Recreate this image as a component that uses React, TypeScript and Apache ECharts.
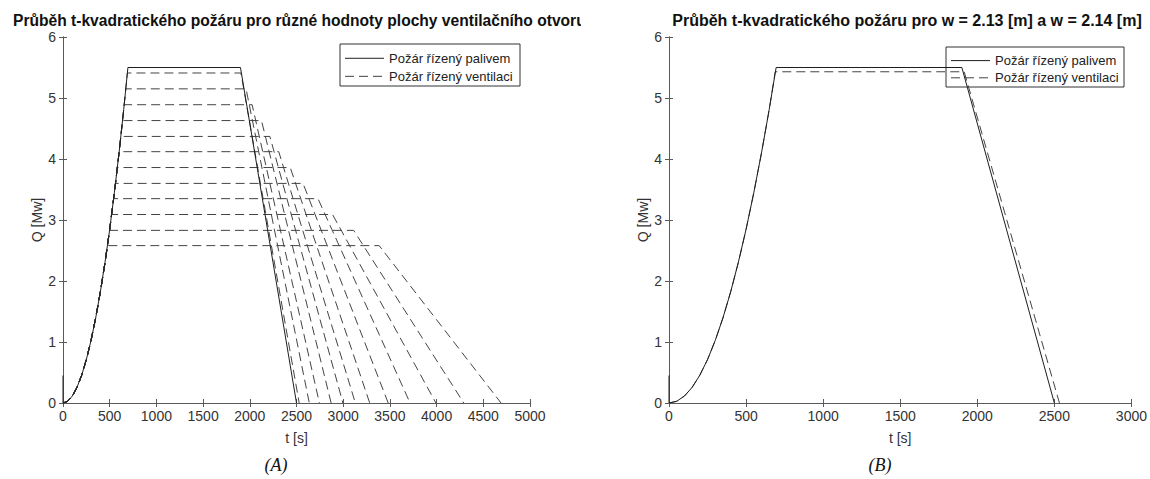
import React, { useEffect, useRef } from "react";
import * as echarts from "echarts";

// ---------- DATA ----------
// shared t-squared growth phase
const riseT = [0, 50, 100, 150, 200, 250, 300, 350, 400, 450, 500, 550, 600, 650, 695];
const riseQ = [0, 0.028, 0.114, 0.256, 0.456, 0.712, 1.025, 1.395, 1.822, 2.306, 2.847, 3.445, 4.1, 4.81, 5.5];

// fuel controlled fire (solid)
const spikeQ = 0.45; // short vertical mark at t = 0
const fuelPeak = 5.5;
const fuelPlateauEnd = 1900;
const fuelZero = 2500;

// ventilation controlled fires in chart A (dashed)
const ventLevelsA = [5.41, 5.15, 4.89, 4.63, 4.37, 4.12, 3.86, 3.6, 3.35, 3.09, 2.83, 2.58];
const ventStartA = [689, 672, 655, 638, 620, 601, 582, 562, 542, 521, 498, 476];
const ventEndA = [1905, 1960, 2025, 2125, 2215, 2310, 2433, 2570, 2730, 2886, 3112, 3385];
const ventZeroA = [2529, 2637, 2745, 2871, 2997, 3130, 3284, 3482, 3716, 3993, 4291, 4690];

// chart B
const ventLevelB = 5.43;
const ventStartB = 689;
const ventEndB = 1915;
const ventZeroB = 2533;

const xTicksA = { min: 0, max: 5000, interval: 500 };
const xTicksB = { min: 0, max: 3000, interval: 500 };
const yTicks = { min: 0, max: 6, interval: 1 };

const titleA = "Průběh t-kvadratického požáru pro různé hodnoty plochy ventilačního otvoru";
const titleB = "Průběh t-kvadratického požáru pro w = 2.13 [m] a w = 2.14 [m]";
const legendFuel = "Požár řízený palivem";
const legendVent = "Požár řízený ventilaci";
const xName = "t [s]";
const yName = "Q [Mw]";

// ---------- helpers ----------
function fuelCurve(): number[][] {
  const pts: number[][] = [[0, spikeQ]];
  riseT.forEach((t, i) => pts.push([t, riseQ[i]]));
  pts.push([fuelPlateauEnd, fuelPeak]);
  pts.push([fuelZero, 0]);
  return pts;
}
function ventCurve(level: number, start: number, end: number, zero: number): number[][] {
  const pts: number[][] = [];
  riseT.forEach((t, i) => {
    if (t < start) pts.push([t, riseQ[i]]);
  });
  pts.push([start, level]);
  pts.push([end, level]);
  pts.push([zero, 0]);
  return pts;
}

const FONT = "Liberation Sans, Arial, sans-serif";
const AX = "#5a5a5a";
const TXT = "#333";

const SOLID = "#1e1e1e";
const DASH = "#444";
const DASHPAT = [9, 5];

export default function App() {
  const ref = useRef<HTMLDivElement>(null);
  useEffect(() => {
    document.body.style.margin = "0";
    const chart = echarts.init(ref.current!, undefined, { renderer: "svg" });

    const G = [
      { left: 63, top: 37, width: 467, height: 366 },
      { left: 669, top: 37, width: 466, height: 366 },
    ];
    const xr = [xTicksA, xTicksB];
    const fmt = (v: number) => String(v);

    const xAxis: any[] = [];
    const yAxis: any[] = [];
    [0, 1].forEach((g) => {
      xAxis.push({
        type: "value",
        gridIndex: g,
        ...xr[g],
        position: "bottom",
        name: xName,
        nameLocation: "middle",
        nameGap: 28,
        nameTextStyle: { color: TXT, fontSize: 14, fontFamily: FONT },
        axisLine: { lineStyle: { color: AX, width: 1 } },
        axisTick: { inside: true, length: 4, lineStyle: { color: AX } },
        axisLabel: { color: TXT, fontSize: 14, fontFamily: FONT, margin: 6, formatter: fmt },
        splitLine: { show: false },
      });
      xAxis.push({
        type: "value",
        gridIndex: g,
        ...xr[g],
        position: "top",
        axisLine: { lineStyle: { color: AX, width: 1 } },
        axisTick: { inside: true, length: 4, lineStyle: { color: AX } },
        axisLabel: { show: false },
        splitLine: { show: false },
      });
      yAxis.push({
        type: "value",
        gridIndex: g,
        ...yTicks,
        position: "left",
        name: yName,
        nameLocation: "middle",
        nameGap: 19,
        nameTextStyle: { color: TXT, fontSize: 14, fontFamily: FONT },
        axisLine: { show: true, lineStyle: { color: AX, width: 1 } },
        axisTick: { show: true, inside: true, length: 4, lineStyle: { color: AX } },
        axisLabel: { color: TXT, fontSize: 14, fontFamily: FONT, margin: 7, formatter: fmt },
        splitLine: { show: false },
      });
      yAxis.push({
        type: "value",
        gridIndex: g,
        ...yTicks,
        position: "right",
        axisLine: { show: true, lineStyle: { color: AX, width: 1 } },
        axisTick: { show: true, inside: true, length: 4, lineStyle: { color: AX } },
        axisLabel: { show: false },
        splitLine: { show: false },
      });
    });

    const series: any[] = [];
    ventLevelsA.forEach((lv, i) => {
      series.push({
        type: "line",
        xAxisIndex: 0,
        yAxisIndex: 0,
        data: ventCurve(lv, ventStartA[i], ventEndA[i], ventZeroA[i]),
        symbol: "none",
        lineStyle: { color: DASH, width: 1, type: DASHPAT },
        z: 2,
      });
    });
    series.push({
      type: "line",
      xAxisIndex: 0,
      yAxisIndex: 0,
      data: fuelCurve(),
      symbol: "none",
      lineStyle: { color: SOLID, width: 1 },
      z: 3,
    });
    series.push({
      type: "line",
      xAxisIndex: 2,
      yAxisIndex: 2,
      data: ventCurve(ventLevelB, ventStartB, ventEndB, ventZeroB),
      symbol: "none",
      lineStyle: { color: DASH, width: 1, type: DASHPAT },
      z: 2,
    });
    series.push({
      type: "line",
      xAxisIndex: 2,
      yAxisIndex: 2,
      data: fuelCurve(),
      symbol: "none",
      lineStyle: { color: SOLID, width: 1 },
      z: 3,
    });

    const legendBox = (x: number, y: number, w: number, h: number, fs: number) => ({
      type: "group",
      x,
      y,
      z: 10,
      children: [
        { type: "rect", shape: { x: 0, y: 0, width: w, height: h }, style: { fill: "#fff", stroke: "#333", lineWidth: 1 } },
        { type: "line", shape: { x1: 5, y1: h * 0.34, x2: 44, y2: h * 0.34 }, style: { stroke: SOLID, lineWidth: 1 } },
        { type: "line", shape: { x1: 5, y1: h * 0.77, x2: 44, y2: h * 0.77 }, style: { stroke: DASH, lineWidth: 1, lineDash: DASHPAT } },
        { type: "text", x: 49, y: h * 0.34, style: { text: legendFuel, font: `${fs}px ${FONT}`, fill: "#222", textVerticalAlign: "middle" } },
        { type: "text", x: 49, y: h * 0.77, style: { text: legendVent, font: `${fs}px ${FONT}`, fill: "#222", textVerticalAlign: "middle" } },
      ],
    });

    chart.setOption({
      animation: false,
      backgroundColor: "#fff",
      title: [
        {
          text: titleA,
          left: 8,
          top: 7,
          textStyle: { fontSize: 15.6, fontWeight: "bold", color: "#111", fontFamily: FONT },
        },
        {
          text: titleB,
          left: 902,
          textAlign: "center",
          top: 7,
          textStyle: { fontSize: 16, fontWeight: "bold", color: "#111", fontFamily: FONT },
        },
      ],
      grid: G.map((g) => ({ ...g, containLabel: false })),
      xAxis,
      yAxis,
      series,
      graphic: [
        // crop of the over-long title A, as in the reference
        { type: "rect", shape: { x: 581, y: 0, width: 80, height: 32 }, style: { fill: "#fff" }, z: 100 },
        legendBox(340, 44, 180, 42, 13),
        legendBox(946, 47, 178, 40, 13),
        {
          type: "text",
          x: 276,
          y: 465,
          style: { text: "(A)", font: `italic 18px "Liberation Serif", "Times New Roman", serif`, fill: "#111", textAlign: "center", textVerticalAlign: "middle" },
        },
        {
          type: "text",
          x: 880,
          y: 465,
          style: { text: "(B)", font: `italic 18px "Liberation Serif", "Times New Roman", serif`, fill: "#111", textAlign: "center", textVerticalAlign: "middle" },
        },
      ],
    });
    return () => chart.dispose();
  }, []);
  return <div ref={ref} style={{ position: "absolute", left: 0, top: 0, width: 1150, height: 479 }} />;
}
